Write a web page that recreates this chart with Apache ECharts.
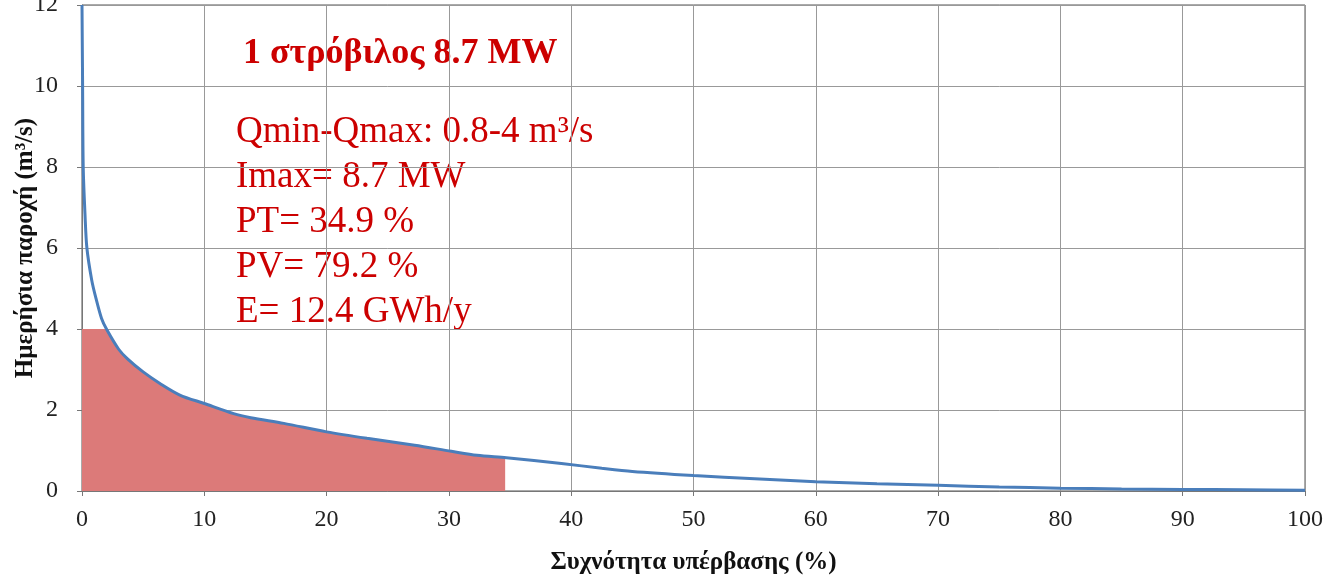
<!DOCTYPE html>
<html>
<head>
<meta charset="utf-8">
<script src="https://cdn.jsdelivr.net/npm/echarts@6/dist/echarts.min.js"></script>
<style>
html,body{margin:0;padding:0;background:#fff;}
#chart{width:1330px;height:578px;}
</style>
</head>
<body>
<div id="chart"></div>
<script>
// Flow duration curve: exceedance frequency (%) vs daily discharge (m3/s)
const curveX = [0, 0.05, 0.1, 0.25, 0.4, 0.8, 1.15, 1.6, 2, 3, 3.7, 5, 6.4, 8, 10, 12.4, 13.8, 16.5, 20, 23.3, 27.2, 30.2, 32.3, 34.7, 39.2, 42.5, 45, 50, 55, 60, 65, 70, 75, 80, 85, 90, 95, 100];
const curveQ = [12, 10, 8, 6.8, 6, 5.2, 4.75, 4.26, 4, 3.5, 3.27, 2.94, 2.65, 2.37, 2.16, 1.91, 1.81, 1.67, 1.46, 1.30, 1.13, 0.98, 0.88, 0.82, 0.68, 0.56, 0.48, 0.38, 0.30, 0.23, 0.18, 0.14, 0.10, 0.07, 0.05, 0.04, 0.03, 0.02];
// Turbined flow (between Qmin and Qmax)
const turbX = [0, 2, 3, 3.7, 5, 6.4, 8, 10, 12.4, 13.8, 16.5, 20, 23.3, 27.2, 30.2, 32.3, 34.6];
const turbQ = [4, 4, 3.5, 3.27, 2.94, 2.65, 2.37, 2.16, 1.91, 1.81, 1.67, 1.46, 1.30, 1.13, 0.98, 0.88, 0.82];
const xTicks = [0, 10, 20, 30, 40, 50, 60, 70, 80, 90, 100];
const yTicks = [0, 2, 4, 6, 8, 10, 12];
const titleText = '1 στρόβιλος 8.7 MW';
const infoLines = ['Qmin-Qmax: 0.8-4 m³/s', 'Imax= 8.7 MW', 'PT= 34.9 %', 'PV= 79.2 %', 'E= 12.4 GWh/y'];
const xName = 'Συχνότητα υπέρβασης (%)';
const yName = 'Ημερήσια παροχή (m³/s)';

const chart = echarts.init(document.getElementById('chart'));
const font = 'Liberation Serif';
const red = '#cc0000';

const graphics = [{
  type: 'text', left: 243, top: 36,
  style: { text: titleText, font: 'bold 36px "Liberation Serif"', fill: red }
}];
infoLines.forEach((t, i) => {
  graphics.push({
    type: 'text', left: 236, top: 114 + i * 45,
    style: { text: t, font: '37px "Liberation Serif"', fill: red }
  });
});

chart.setOption({
  animation: false,
  backgroundColor: '#fff',
  grid: { left: 82, right: 25, top: 5, bottom: 87, containLabel: false, outerBoundsMode: 'none', show: true, borderColor: '#555', borderWidth: 1, backgroundColor: 'transparent' },
  xAxis: {
    type: 'value', min: xTicks[0], max: xTicks[xTicks.length - 1], interval: 10,
    name: xName, nameLocation: 'middle', nameGap: 59,
    nameTextStyle: { fontFamily: font, fontWeight: 'bold', fontSize: 25, color: '#111' },
    axisLine: { show: true, lineStyle: { color: '#777' } },
    axisTick: { show: true, length: 5, lineStyle: { color: '#777' } },
    axisLabel: { fontFamily: font, fontSize: 24, color: '#222', margin: 17 },
    splitLine: { show: true, lineStyle: { color: '#999', width: 1 } }
  },
  yAxis: {
    type: 'value', min: yTicks[0], max: yTicks[yTicks.length - 1], interval: 2,
    name: yName, nameLocation: 'middle', nameGap: 44, nameMoveOverlap: false,
    nameTextStyle: { fontFamily: font, fontWeight: 'bold', fontSize: 25, color: '#111' },
    axisLine: { show: true, lineStyle: { color: '#777' } },
    axisTick: { show: true, length: 5, lineStyle: { color: '#777' } },
    axisLabel: { fontFamily: font, fontSize: 24, color: '#222', margin: 24 },
    splitLine: { show: true, lineStyle: { color: '#999', width: 1 } }
  },
  series: [
    {
      type: 'line', name: 'turbined',
      data: turbX.map((x, i) => [x, turbQ[i]]),
      showSymbol: false, smooth: false,
      lineStyle: { width: 0 },
      areaStyle: { color: '#dc7a79', opacity: 1 },
      z: 1
    },
    {
      type: 'line', name: 'duration',
      data: curveX.map((x, i) => [x, curveQ[i]]),
      showSymbol: false, smooth: 0.3,
      lineStyle: { color: '#4a7ebb', width: 3 },
      z: 2
    }
  ],
  graphic: graphics
});
</script>
</body>
</html>
